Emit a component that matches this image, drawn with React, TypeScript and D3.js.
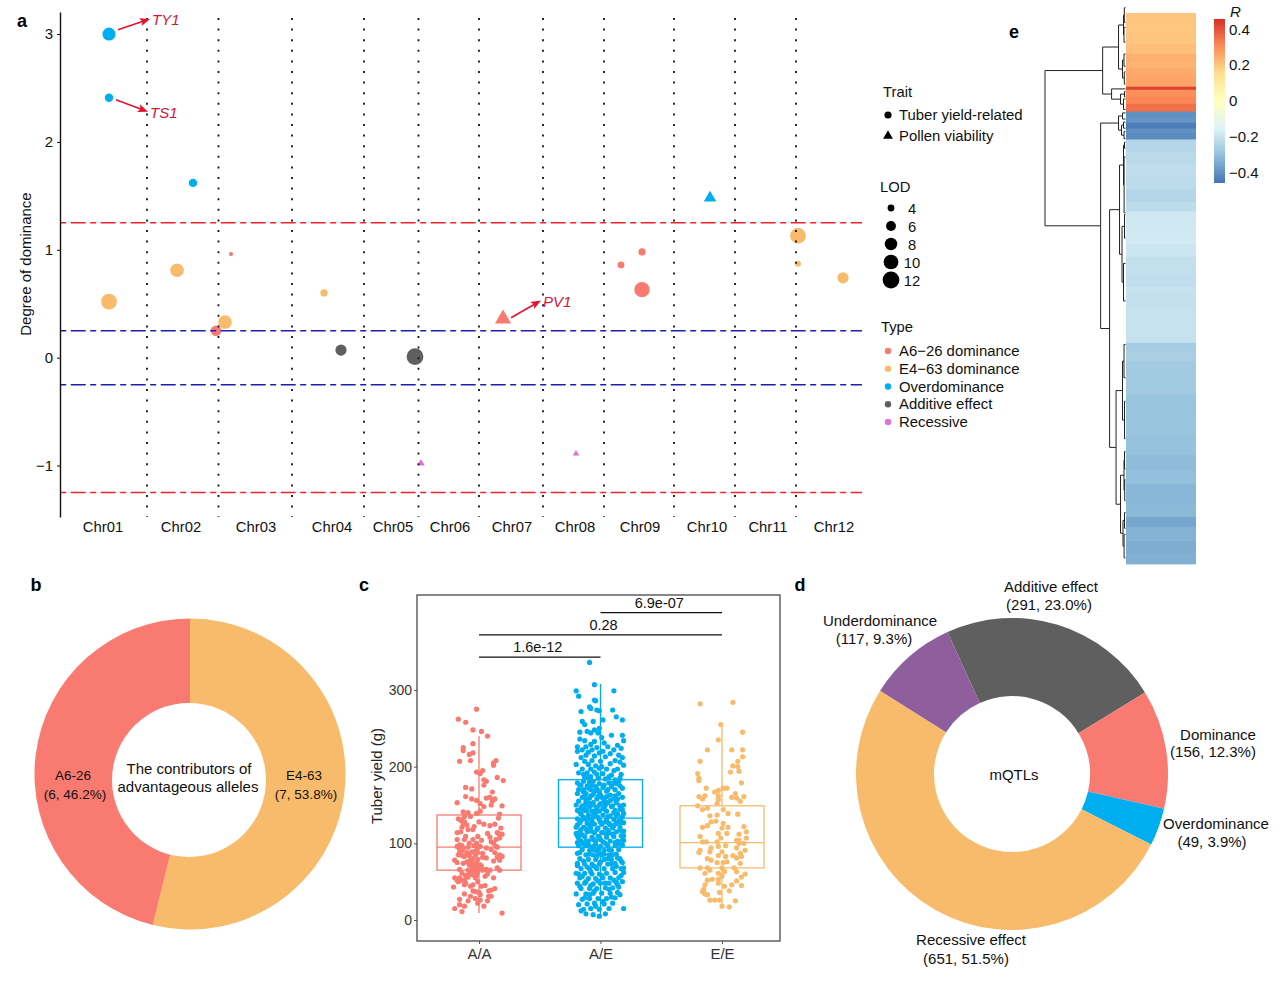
import React, { useEffect, useRef } from "react";
import * as d3 from "d3";

const FONT = "'Liberation Sans', Arial, sans-serif";

const red = "#F97A70";
const orange = "#F8BB6B";
const blue = "#00AEEF";
const grey = "#5F5F5F";
const purple = "#E070DC";

// panel a
const chromNames = ["Chr01", "Chr02", "Chr03", "Chr04", "Chr05", "Chr06", "Chr07", "Chr08", "Chr09", "Chr10", "Chr11", "Chr12"];
const chromMid = [43, 121, 196, 272, 333, 390, 452, 515, 580, 647, 708, 774];
const chromEnd = [87, 158.5, 232, 304, 358.5, 419, 483, 544, 614, 675, 736];
const qtlPos = [49, 49, 133, 49, 117, 165, 264, 738, 738, 783, 171, 156, 561, 582, 582, 443, 281, 355, 650, 361, 516];
const qtlDegree = [3.0, 2.41, 1.62, 0.52, 0.81, 0.33, 0.6, 1.13, 0.87, 0.74, 0.96, 0.25, 0.86, 0.98, 0.63, 0.36, 0.07, 0.01, 1.48, -0.98, -0.89];
const qtlLod = [8.5, 5, 5, 11, 9, 9, 4.3, 11, 3.5, 7, 2.6, 6.5, 4, 4.2, 10.5, 12, 7, 12, 8.5, 4.6, 4];
const qtlType = ["O", "O", "O", "E", "E", "E", "E", "E", "E", "E", "A", "A", "A", "A", "A", "A", "D", "D", "O", "R", "R"];
const qtlTrait = ["T", "T", "T", "T", "T", "T", "T", "T", "T", "T", "T", "T", "T", "T", "T", "P", "T", "T", "P", "P", "P"];
const typeKeys = ["A", "E", "O", "D", "R"];
const typeLabels = ["A6−26 dominance", "E4−63 dominance", "Overdominance", "Additive effect", "Recessive"];
const typeColors = [red, orange, blue, grey, purple];
const lodLegend = [4, 6, 8, 10, 12];
const degreeTicks = [-1, 0, 1, 2, 3];
const redLines = [1.25, -1.25];
const blueLines = [0.25, -0.25];
const callouts: [string, number, number, number, number, number, number][] = [
  ["TY1", 58, 3.04, 90, 3.14, 92, 3.13],
  ["TS1", 56, 2.39, 88, 2.28, 90, 2.27],
  ["PV1", 451, 0.37, 481, 0.53, 483, 0.52],
];

// panel b
const allelesNames = ["E4-63", "A6-26"];
const allelesValues = [7, 6];

// panel c: [jitter as % of group step, tuber yield]
const genotypes = ["A/A", "A/E", "E/E"];
const boxQ1 = [65, 95, 68];
const boxMedian = [95, 133, 101];
const boxQ3 = [137, 183, 149];
const boxLow = [9, 4, 17];
const boxHigh = [240, 308, 257];
const yieldTicks = [0, 100, 200, 300];
const sigFrom = [0, 0, 1];
const sigTo = [1, 2, 2];
const sigAt = [343, 372, 401];
const sigLabels = ["1.6e-12", "0.28", "6.9e-07"];
const sigShift = [-2, 3, -2];

const aaPoints = [[-2,275],[-17,262],[-11,258],[-5,248],[2,246],[7,240],[-5,230],[-13,225],[-13,221],[-5,218],[-8,216],[-7,208],[-16,207],[14,208],[12,205],[12,202],[3,195],[-2,193],[1,191],[4,183],[15,186],[20,182],[6,181],[4,176],[-11,173],[-6,171],[11,167],[-11,161],[-6,158],[-2,156],[-18,153],[6,159],[9,160],[13,158],[11,155],[4,148],[19,149],[10,150],[1,152],[-13,141],[-9,140],[-2,139],[1,142],[17,138],[-12,135],[-7,135],[-17,132],[-14,131],[-12,128],[-10,124],[0,128],[16,133],[-14,121],[-5,118],[18,120],[-18,114],[7,113],[15,114],[19,112],[-11,109],[-1,109],[9,108],[-18,105],[-5,105],[2,104],[14,105],[17,107],[-16,98],[-9,95],[-2,100],[10,102],[-18,96],[-14,91],[-6,89],[1,96],[6,94],[15,95],[-16,87],[-12,83],[-3,85],[3,87],[10,92],[17,85],[19,83],[-20,78],[-18,75],[-13,74],[-7,78],[-1,79],[6,81],[17,78],[-16,66],[-8,72],[-3,72],[1,72],[9,65],[15,68],[17,65],[-9,65],[-3,65],[-1,63],[6,66],[-14,61],[-5,59],[-16,55],[-20,55],[-17,50],[-12,52],[-3,55],[5,57],[12,55],[-21,43],[-12,46],[-5,46],[5,45],[13,41],[10,39],[-12,34],[-3,37],[1,33],[-7,31],[8,31],[10,31],[-16,27],[-3,28],[1,26],[-20,15],[-16,20],[-12,18],[4,18],[-1,22],[-14,11],[19,9],
  [-15,94],[-14,97],[-15,89],[-13,93],[-16,92],[-10,88],[-8,84],[-5,80],[-2,74],[0,68],[2,70],[-4,68],[-6,64],[-11,58],[-9,56],[-14,52],[-18,52],[-3,90],[-1,94],[3,82],[13,88],[15,82],[12,77],[-15,130],[-13,126],[-4,62],[-2,58],[-6,76],
  [-4,122],[-9,118],[-15,115],[4,125],[9,123],[13,125],[16,113],[-12,105],[-8,100],[-4,97],[-1,88],[12,100],[14,96],[-17,85],[-14,84],[-10,76],[-6,70],[-1,70],[3,65],[7,60],[-8,60],[-11,48],[-7,44],[-1,50],[2,44],[8,38],[-5,38],[0,36],[-9,25],[7,25]];

const aePoints = [[-9,336],[-5,307],[-20,299],[11,299],[-18,292],[-5,287],[-4,286],[-9,278],[-8,276],[-1,273],[-16,272],[-3,274],[10,274],[13,265],[18,261],[2,261],[-15,259],[-6,259],[-13,255],[-1,250],[-17,245],[-11,246],[-8,244],[-5,248],[-2,244],[9,241],[18,241],[1,238],[-17,236],[19,234],[-13,234],[-5,233],[3,231],[-8,229],[-12,226],[14,228],[-19,226],[-15,222],[-7,222],[-3,225],[6,226],[11,222],[17,224],[-19,220],[-10,219],[-1,218],[2,220],[8,217],[15,215],[-16,212],[-12,215],[-5,214],[18,212],[4,213],[12,208],[-13,207],[-7,208],[0,207],[-20,203],[16,206],[-10,203],[-4,201],[8,204],[19,202],[14,197],[-15,197],[-8,197],[-1,198],[5,197],[11,195],
  [-18,192],[-11,192],[-5,193],[2,191],[9,189],[17,190],[-13,186],[-8,187],[-2,185],[-14,181],[-9,180],[4,184],[12,183],[15,181],[-6,181],[-1,178],[7,179],[-17,176],[-11,175],[-4,174],[2,173],[9,174],[16,175],[-14,170],[-8,170],[-1,168],[5,168],[12,170],[-19,165],[-12,165],[-6,164],[0,163],[8,163],[15,165],[-15,160],[-9,159],[-3,158],[3,158],[11,158],[18,160],[-18,155],[-12,154],[-6,153],[0,152],[6,153],[13,153],[-15,149],[-9,148],[-3,147],[3,147],[9,148],[16,149],[-19,143],[-13,143],[-7,142],[-1,142],[5,142],[12,143],[18,144],[-16,138],[-10,137],[-4,137],[2,137],[8,136],[14,138],[19,139],
  [-19,132],[-13,132],[-7,131],[-1,131],[5,131],[11,131],[17,133],[-17,127],[-11,126],[-5,125],[1,125],[7,126],[13,126],[19,127],[-20,121],[-14,121],[-8,120],[-2,120],[4,120],[10,120],[16,121],[-17,115],[-11,115],[-5,114],[1,114],[7,114],[13,115],[19,116],[-19,110],[-13,109],[-7,108],[-1,108],[5,108],[11,109],[17,110],[-16,103],[-10,103],[-4,103],[2,102],[8,103],[14,103],[19,104],[-18,97],[-12,97],[-6,96],[0,96],[6,97],[12,97],[18,98],[-15,92],[-9,91],[-3,90],[3,91],[9,91],[15,92],[-19,87],[-12,85],[-6,85],[1,85],[7,85],[13,86],
  [-17,80],[-10,79],[-4,79],[3,79],[9,79],[16,80],[-19,74],[-13,73],[-7,73],[-1,73],[6,73],[12,74],[18,75],[-16,67],[-9,67],[-3,67],[3,67],[10,67],[17,67],[-20,61],[-13,61],[-7,60],[-1,60],[5,61],[12,62],[19,62],[-17,55],[-10,54],[-4,54],[2,55],[8,55],[15,55],[-19,48],[-13,48],[-6,47],[0,48],[7,48],[13,49],[18,50],[-16,41],[-9,41],[-3,41],[4,42],[10,42],[15,43],[-20,34],[-12,34],[-6,35],[1,35],[8,35],[14,36],[-15,27],[-9,28],[-2,28],[5,28],[12,29],[-18,20],[-11,21],[-5,22],[3,21],[10,22],[-14,14],[-8,15],[-1,14],[7,15],[-12,8],[-6,7],[-1,5],[19,15],[4,8],[-16,12],
  [-16,176],[-14,167],[-13,161],[-10,172],[-7,176],[-5,168],[-3,171],[-11,157],[-8,162],[-6,150],[-4,143],[-13,149],[-16,146],[-11,143],[-17,141],[-2,134],[-14,134],[-9,124],[-12,119],[-16,118],[-15,111],[-18,107],[-8,116],[-6,105],[-12,103],[-14,99],[-4,99],[-2,93],[-9,86],[-7,94],[-1,87],[2,145],[4,150],[1,160],[-1,166],[3,176],[6,170],[8,156],[10,149],[12,162],[14,158],[16,144],[18,135],[17,127],[16,117],[19,110],[18,104],[15,99],[12,101],[10,112],[8,124],[6,135],[4,128],[2,114],[0,105],[-2,109],[4,100],[7,92],[10,85],[14,81],[17,77],[13,70],[9,73],[6,80],[3,86],[0,76],[-3,83],[-5,70],[-8,63],[-11,69],[-14,77],[-17,88],[-19,71],[-15,57],[-12,50],[-8,45],[-5,38],[-2,51],[1,58],[4,48],[7,40],[11,52],[14,46],[17,58],[19,68],[16,33],[9,30],[2,24],[-4,18],[-9,33],[-13,29],[-17,44],[-18,60],[-6,92],[-10,98],[-3,118],[-7,128],[-10,132],[-5,139],[-1,150],[0,128],[3,155],[5,112],[6,117],[11,123],[13,136],[15,129],[-19,101],[-20,113],[-19,124],[-16,130],[-20,150],[-18,170],[-19,179],[-14,190],[-10,186],[-3,190],[1,200],[7,187],[10,178],[16,185],[18,172],[19,150],[13,178],[11,140],[5,161],[-9,152],[-6,136],[-2,161],[-12,158]];

const eePoints = [[-18,282],[9,284],[-1,255],[17,245],[-3,235],[-12,222],[8,222],[17,222],[17,213],[-18,207],[13,207],[9,201],[13,200],[7,193],[14,194],[-20,191],[-19,185],[-19,182],[16,179],[-13,172],[-6,167],[-3,169],[1,172],[4,172],[-3,162],[11,165],[-19,161],[-14,162],[-16,158],[8,160],[12,159],[18,161],[-4,152],[-3,157],[15,155],[-20,149],[-12,146],[-16,144],[1,144],[5,139],[-10,136],[-4,137],[13,138],[-5,129],[-9,128],[1,126],[-12,123],[-16,121],[0,120],[5,121],[18,122],[20,115],[-3,113],[4,113],[-18,109],[14,112],[-1,107],[-13,102],[-16,102],[-4,102],[12,104],[14,104],[20,107],[18,100],[14,100],[-9,94],[-3,96],[3,97],[-18,91],[-19,88],[-10,89],[0,89],[12,94],[19,91],[15,87],[-3,84],[3,83],[9,84],[-12,80],[-9,78],[12,81],[16,83],[-4,75],[1,75],[4,76],[15,74],[-18,68],[-12,68],[-10,65],[0,68],[10,68],[12,63],[-14,61],[-3,61],[2,63],[19,60],[16,56],[-12,52],[-8,53],[-3,53],[0,57],[12,51],[-14,46],[-3,48],[8,46],[16,45],[-15,40],[2,44],[-16,37],[-14,34],[6,38],[-2,36],[-12,33],[-10,26],[-6,26],[-2,26],[11,25],[6,17],[0,18]];

// panel d
const qtlClassNames = ["Additive effect", "Dominance", "Overdominance", "Recessive effect", "Underdominance"];
const qtlClassCounts = [291, 156, 49, 651, 117];
const qtlClassColors = [grey, red, blue, orange, "#8F5E9C"];

// panel e: correlation of each block of rows, top to bottom
const heatR = [0.205, 0.2, 0.205, 0.215, 0.245, 0.235, 0.255, 0.265, 0.43, 0.305, 0.315, 0.355, -0.4, -0.39, -0.44, -0.4, -0.41, -0.235, -0.225, -0.215, -0.22, -0.235, -0.22, -0.185, -0.18, -0.19, -0.21, -0.215, -0.2, -0.205, -0.2, -0.265, -0.255, -0.27, -0.29, -0.285, -0.295, -0.31, -0.3, -0.32, -0.315, -0.355, -0.33, -0.34, -0.335];
const heatRows = [25, 23, 23, 23, 18, 14, 18, 25, 7, 16, 16, 18, 14, 11, 14, 9, 16, 28, 30, 22, 35, 28, 22, 44, 30, 30, 40, 30, 14, 30, 83, 18, 25, 76, 51, 41, 46, 36, 30, 46, 30, 23, 31, 31, 23];
const heatStops = ["#4575B4", "#91BFDB", "#E0F3F8", "#FFFFBF", "#FEE090", "#FC8D59", "#D73027"];
const heatTicks = [-0.4, -0.2, 0, 0.2, 0.4];

interface Branch {
  h: number;
  kids: (Branch | number)[];
}

// merge heights on the left, leaf positions as row numbers of the heatmap
const dendro: Branch = {
  h: 81,
  kids: [
    {
      h: 23,
      kids: [
        {
          h: 7,
          kids: [
            { h: 2, kids: [{ h: 1.2, kids: [-12, 22] }, { h: 1.5, kids: [33, 67] }] },
            { h: 3, kids: [{ h: 1.5, kids: [94, 122] }, { h: 1.2, kids: [135, 163] }] },
          ],
        },
        {
          h: 14,
          kids: [174, { h: 5, kids: [{ h: 1, kids: [180, 192] }, { h: 2, kids: [197, 221] }] }],
        },
      ],
    },
    {
      h: 25,
      kids: [
        {
          h: 7,
          kids: [
            { h: 3, kids: [229, 243] },
            { h: 4, kids: [{ h: 2, kids: [250, 264] }, { h: 1.5, kids: [272, 288] }] },
          ],
        },
        {
          h: 16,
          kids: [
            {
              h: 6,
              kids: [
                { h: 2, kids: [{ h: 1, kids: [296, 310] }, { h: 1.4, kids: [330, 458] }] },
                { h: 3.5, kids: [{ h: 1, kids: [462, 516] }, { h: 2, kids: [574, 660] }] },
              ],
            },
            {
              h: 9.5,
              kids: [
                { h: 3, kids: [{ h: 1.5, kids: [760, 836] }, { h: 1, kids: [890, 976] }] },
                {
                  h: 5,
                  kids: [
                    { h: 1.5, kids: [{ h: 1, kids: [1005, 1045] }, { h: 0.8, kids: [1070, 1118] }] },
                    { h: 2.5, kids: [{ h: 1, kids: [1145, 1181] }, { h: 1.4, kids: [1195, 1249] }] },
                  ],
                },
              ],
            },
          ],
        },
      ],
    },
  ],
};

type G = d3.Selection<SVGGElement, unknown, null, undefined>;

const addText = (g: G, x: number, y: number, s: string, size = 15, anchor = "middle") =>
  g.append("text")
    .attr("x", x)
    .attr("y", y)
    .attr("text-anchor", anchor)
    .attr("dominant-baseline", "central")
    .attr("font-size", size)
    .attr("fill", "#111")
    .text(s);

const styleAxis = (ax: G, size: number, color = "#111", textColor = "#111") => {
  ax.selectAll("text").attr("font-size", size).attr("font-family", FONT).attr("fill", textColor);
  ax.selectAll("line").attr("stroke", color);
  ax.select(".domain").attr("stroke", color);
};

const drawPanelA = (g: G) => {
  const x = d3.scaleLinear().domain([0, 802]).range([60, 862]);
  const y = d3.scaleLinear().domain([-1.477, 3.204]).range([517, 12]);
  const r = d3.scaleSqrt().domain([3, 12]).range([2.5, 8.4]);
  const typeColor = d3.scaleOrdinal<string>().domain(typeKeys).range(typeColors);

  const pts = qtlPos.map((p, i) => ({ p, d: qtlDegree[i], lod: qtlLod[i], type: qtlType[i], trait: qtlTrait[i] }));
  g.append("g").selectAll("path").data(pts).join("path")
    .attr("transform", d => `translate(${x(d.p)},${y(d.d)})`)
    .attr("fill", d => typeColor(d.type))
    .attr("d", d => {
      const rad = r(d.lod);
      return d.trait === "T"
        ? d3.symbol(d3.symbolCircle, Math.PI * rad * rad)()
        : d3.symbol(d3.symbolTriangle, 1.6 * rad * rad)();
    });

  g.append("g").selectAll("line").data(chromEnd).join("line")
    .attr("x1", d => x(d)).attr("x2", d => x(d))
    .attr("y1", 18).attr("y2", 517)
    .attr("stroke", "#111").attr("stroke-width", 1.8).attr("stroke-dasharray", "2 8.6");

  const hline = (vals: number[], color: string) =>
    g.append("g").selectAll("line").data(vals).join("line")
      .attr("x1", x(0)).attr("x2", x(802))
      .attr("y1", d => y(d)).attr("y2", d => y(d))
      .attr("stroke", color).attr("stroke-width", 1.5)
      .attr("stroke-dasharray", "15 4.5 6 4.5").attr("stroke-dashoffset", 19.3);
  hline(redLines, "#E8242C");
  hline(blueLines, "#1E1EB0");

  const yAxis = g.append("g").attr("transform", "translate(60,0)")
    .call(d3.axisLeft(y).tickValues(degreeTicks).tickSizeInner(3).tickSizeOuter(0).tickPadding(4).tickFormat(d => d3.format("d")(d as number).replace("-", "−")));
  styleAxis(yAxis, 15);
  yAxis.select(".domain").attr("stroke-width", 1.4);

  g.selectAll("text.chr").data(chromNames).join("text")
    .attr("x", (_, i) => x(chromMid[i]))
    .attr("y", 527)
    .attr("text-anchor", "middle")
    .attr("dominant-baseline", "central")
    .attr("font-size", 14.8)
    .attr("fill", "#111")
    .text(d => d);

  addText(g, 0, 0, "Degree of dominance", 15).attr("transform", "translate(25,264) rotate(-90)");

  const arrowRed = "#E8112D";
  callouts.forEach(([name, x0, y0, x1, y1, lx, ly]) => {
    const ax = x(x0), ay = y(y0), bx = x(x1), by = y(y1);
    const ang = Math.atan2(by - ay, bx - ax);
    g.append("line").attr("x1", ax).attr("y1", ay)
      .attr("x2", bx - 5 * Math.cos(ang)).attr("y2", by - 5 * Math.sin(ang))
      .attr("stroke", arrowRed).attr("stroke-width", 1.6);
    const head = [
      [bx, by],
      [bx - 11 * Math.cos(ang - 0.38), by - 11 * Math.sin(ang - 0.38)],
      [bx - 8 * Math.cos(ang), by - 8 * Math.sin(ang)],
      [bx - 11 * Math.cos(ang + 0.38), by - 11 * Math.sin(ang + 0.38)],
    ];
    g.append("polygon").attr("points", head.join(" ")).attr("fill", arrowRed);
    addText(g, x(lx), y(ly), name, 15, "start").attr("font-style", "italic").attr("fill", "#D3143C");
  });

  // legends
  addText(g, 883, 92, "Trait", 14.8, "start");
  g.append("circle").attr("cx", 888).attr("cy", 115).attr("r", 3.6).attr("fill", "#000");
  addText(g, 899, 115, "Tuber yield-related", 14.9, "start");
  g.append("path").attr("transform", "translate(888,136)").attr("d", d3.symbol(d3.symbolTriangle, 42)()).attr("fill", "#000");
  addText(g, 899, 136, "Pollen viability", 14.9, "start");

  addText(g, 880, 187, "LOD", 14.8, "start");
  lodLegend.forEach((d, i) => {
    const cy = d3.scaleLinear().domain([0, 4]).range([208, 280])(i);
    g.append("circle").attr("cx", 891).attr("cy", cy).attr("r", r(d)).attr("fill", "#000");
    addText(g, 912, cy + 0.5, String(d), 14.8);
  });

  addText(g, 881, 327, "Type", 14.8, "start");
  typeLabels.forEach((d, i) => {
    const cy = d3.scaleLinear().domain([0, 4]).range([351, 422])(i);
    g.append("circle").attr("cx", 888).attr("cy", cy).attr("r", 3.2).attr("fill", typeColors[i]);
    addText(g, 899, cy, d, 14.9, "start");
  });
};

const drawPanelB = (g: G) => {
  const pie = d3.pie<number>().sort(null);
  const arc = d3.arc<d3.PieArcDatum<number>>().innerRadius(0).outerRadius(155.5);
  const c = g.append("g").attr("transform", "translate(190,774)");
  c.selectAll("path").data(pie(allelesValues)).join("path")
    .attr("d", arc)
    .attr("fill", (_, i) => (i === 0 ? orange : red));
  // the hole sits a little below the ring's centre in the original
  g.append("circle").attr("cx", 189).attr("cy", 780).attr("r", 77).attr("fill", "#fff");
  addText(g, 304, 775, allelesNames[0], 13.5);
  addText(g, 306, 794, "(7, 53.8%)", 13.5);
  addText(g, 73, 775, allelesNames[1], 13.5);
  addText(g, 75, 794, "(6, 46.2%)", 13.5);
  addText(g, 189, 768, "The contributors of", 15);
  addText(g, 188, 786, "advantageous alleles", 15);
};

const drawPanelC = (g: G) => {
  const x = d3.scalePoint<string>().domain(genotypes).range([479, 722]);
  const step = x.step();
  const y = d3.scaleLinear().domain([-27.4, 424]).range([941, 595]);
  const colors = [red, blue, orange];
  const groups = [aaPoints, aePoints, eePoints];
  const half = 42;

  genotypes.forEach((name, i) => {
    const cx = x(name) as number;
    const box = g.append("g").attr("stroke", colors[i]).attr("stroke-width", 1.3).attr("fill", "none");
    box.append("line").attr("x1", cx).attr("x2", cx).attr("y1", y(boxLow[i])).attr("y2", y(boxQ1[i]));
    box.append("line").attr("x1", cx).attr("x2", cx).attr("y1", y(boxQ3[i])).attr("y2", y(boxHigh[i]));
    box.append("rect").attr("x", cx - half).attr("width", half * 2)
      .attr("y", y(boxQ3[i])).attr("height", y(boxQ1[i]) - y(boxQ3[i]));
    box.append("line").attr("x1", cx - half).attr("x2", cx + half).attr("y1", y(boxMedian[i])).attr("y2", y(boxMedian[i]));
    g.append("g").selectAll("circle").data(groups[i]).join("circle")
      .attr("cx", d => cx + (d[0] / 100) * step)
      .attr("cy", d => y(d[1]))
      .attr("r", 2.6)
      .attr("fill", colors[i]);
  });

  g.append("rect").attr("x", 417).attr("y", 595).attr("width", 363).attr("height", 346)
    .attr("fill", "none").attr("stroke", "#555").attr("stroke-width", 1.4);

  const yAxis = g.append("g").attr("transform", "translate(417,0)")
    .call(d3.axisLeft(y).tickValues(yieldTicks).tickSize(3).tickPadding(2));
  styleAxis(yAxis, 14, "#555", "#333");
  yAxis.select(".domain").remove();
  const xAxis = g.append("g").attr("transform", "translate(0,941)")
    .call(d3.axisBottom(x).tickSize(3).tickPadding(4));
  styleAxis(xAxis, 15, "#555", "#333");
  xAxis.select(".domain").remove();

  addText(g, 0, 0, "Tuber yield (g)", 15).attr("transform", "translate(376,776) rotate(-90)").attr("fill", "#222");

  sigLabels.forEach((s, i) => {
    const a = x(genotypes[sigFrom[i]]) as number;
    const b = x(genotypes[sigTo[i]]) as number;
    g.append("line").attr("x1", a).attr("x2", b).attr("y1", y(sigAt[i])).attr("y2", y(sigAt[i]))
      .attr("stroke", "#111").attr("stroke-width", 1.2);
    addText(g, (a + b) / 2 + sigShift[i], y(sigAt[i]) - 10, s, 14.5);
  });
};

const drawPanelD = (g: G) => {
  const start = (-24.4 * Math.PI) / 180;
  const pie = d3.pie<number>().sort(null).startAngle(start).endAngle(start + 2 * Math.PI);
  const arc = d3.arc<d3.PieArcDatum<number>>().innerRadius(78).outerRadius(156);
  const c = g.append("g").attr("transform", "translate(1012,774)");
  c.selectAll("path").data(pie(qtlClassCounts)).join("path")
    .attr("d", arc)
    .attr("fill", (_, i) => qtlClassColors[i]);

  addText(g, 1051, 586, qtlClassNames[0]);
  addText(g, 1049, 604, "(291, 23.0%)");
  addText(g, 1218, 734, qtlClassNames[1]);
  addText(g, 1213, 751, "(156, 12.3%)");
  addText(g, 1216, 823, qtlClassNames[2]);
  addText(g, 1212, 841, "(49, 3.9%)");
  addText(g, 971, 939, qtlClassNames[3]);
  addText(g, 966, 958, "(651, 51.5%)");
  addText(g, 880, 620, qtlClassNames[4]);
  addText(g, 874, 638, "(117, 9.3%)");
  addText(g, 1014, 774, "mQTLs");
};

const drawPanelE = (g: G) => {
  const color = d3.scaleLinear<string>()
    .domain(d3.range(heatStops.length).map(i => -0.456 + (i * 0.916) / (heatStops.length - 1)))
    .range(heatStops);
  const total = d3.sum(heatRows);
  const y = d3.scaleLinear().domain([0, total]).range([13, 564]);
  const ends = Array.from(d3.cumsum(heatRows));
  g.append("g").selectAll("rect").data(heatR).join("rect")
    .attr("x", 1126).attr("width", 70)
    .attr("y", (_, i) => y(i === 0 ? 0 : ends[i - 1]))
    .attr("height", (_, i) => y(ends[i]) - y(i === 0 ? 0 : ends[i - 1]) + 0.4)
    .attr("fill", d => color(d));

  // dendrogram: parent sits halfway between its two children
  const hx = d3.scaleLinear().domain([0, 81]).range([1125.5, 1045]);
  const lines: string[] = [];
  const walk = (n: Branch | number): [number, number] => {
    if (typeof n === "number") return [0, y(n)];
    const kids = n.kids.map(walk);
    const px = hx(n.h);
    const ys = kids.map(k => k[1]);
    kids.forEach(k => lines.push(`M${px},${k[1]}H${hx(k[0])}`));
    lines.push(`M${px},${ys[0]}V${ys[1]}`);
    return [n.h, (ys[0] + ys[1]) / 2];
  };
  walk(dendro);
  g.append("path").attr("d", lines.join("")).attr("fill", "none").attr("stroke", "#222").attr("stroke-width", 1);

  // colour bar
  const by = d3.scaleLinear().domain([-0.456, 0.459]).range([183, 19]);
  const defs = g.append("defs");
  const grad = defs.append("linearGradient").attr("id", "rbar").attr("x1", 0).attr("x2", 0).attr("y1", 1).attr("y2", 0);
  heatStops.forEach((s, i) => grad.append("stop").attr("offset", `${(i / (heatStops.length - 1)) * 100}%`).attr("stop-color", s));
  g.append("rect").attr("x", 1214).attr("width", 11).attr("y", by(0.459)).attr("height", by(-0.456) - by(0.459)).attr("fill", "url(#rbar)");
  heatTicks.forEach(t => {
    addText(g, 1229, by(t) - 0.5, d3.format(t === 0 ? "d" : ".1f")(t).replace("-", "−"), 15, "start");
  });
  addText(g, 1230, 11, "R", 15, "start").attr("font-style", "italic");
};

const App = () => {
  const ref = useRef<SVGSVGElement>(null);

  useEffect(() => {
    const svg = d3.select(ref.current as SVGSVGElement);
    svg.selectAll("*").remove();
    const g = svg.append("g").attr("font-family", FONT) as unknown as G;
    drawPanelA(g);
    drawPanelB(g);
    drawPanelC(g);
    drawPanelD(g);
    drawPanelE(g);
    const letters: [string, number, number][] = [["a", 22, 21], ["b", 36, 585], ["c", 364, 585], ["d", 800, 585], ["e", 1014, 32]];
    letters.forEach(([s, x, y]) => addText(g, x, y, s, 18).attr("font-weight", "bold").attr("fill", "#000"));
  }, []);

  return <svg ref={ref} width={1280} height={986} style={{ position: "absolute", left: 0, top: 0, background: "#fff" }} />;
};

export default App;
